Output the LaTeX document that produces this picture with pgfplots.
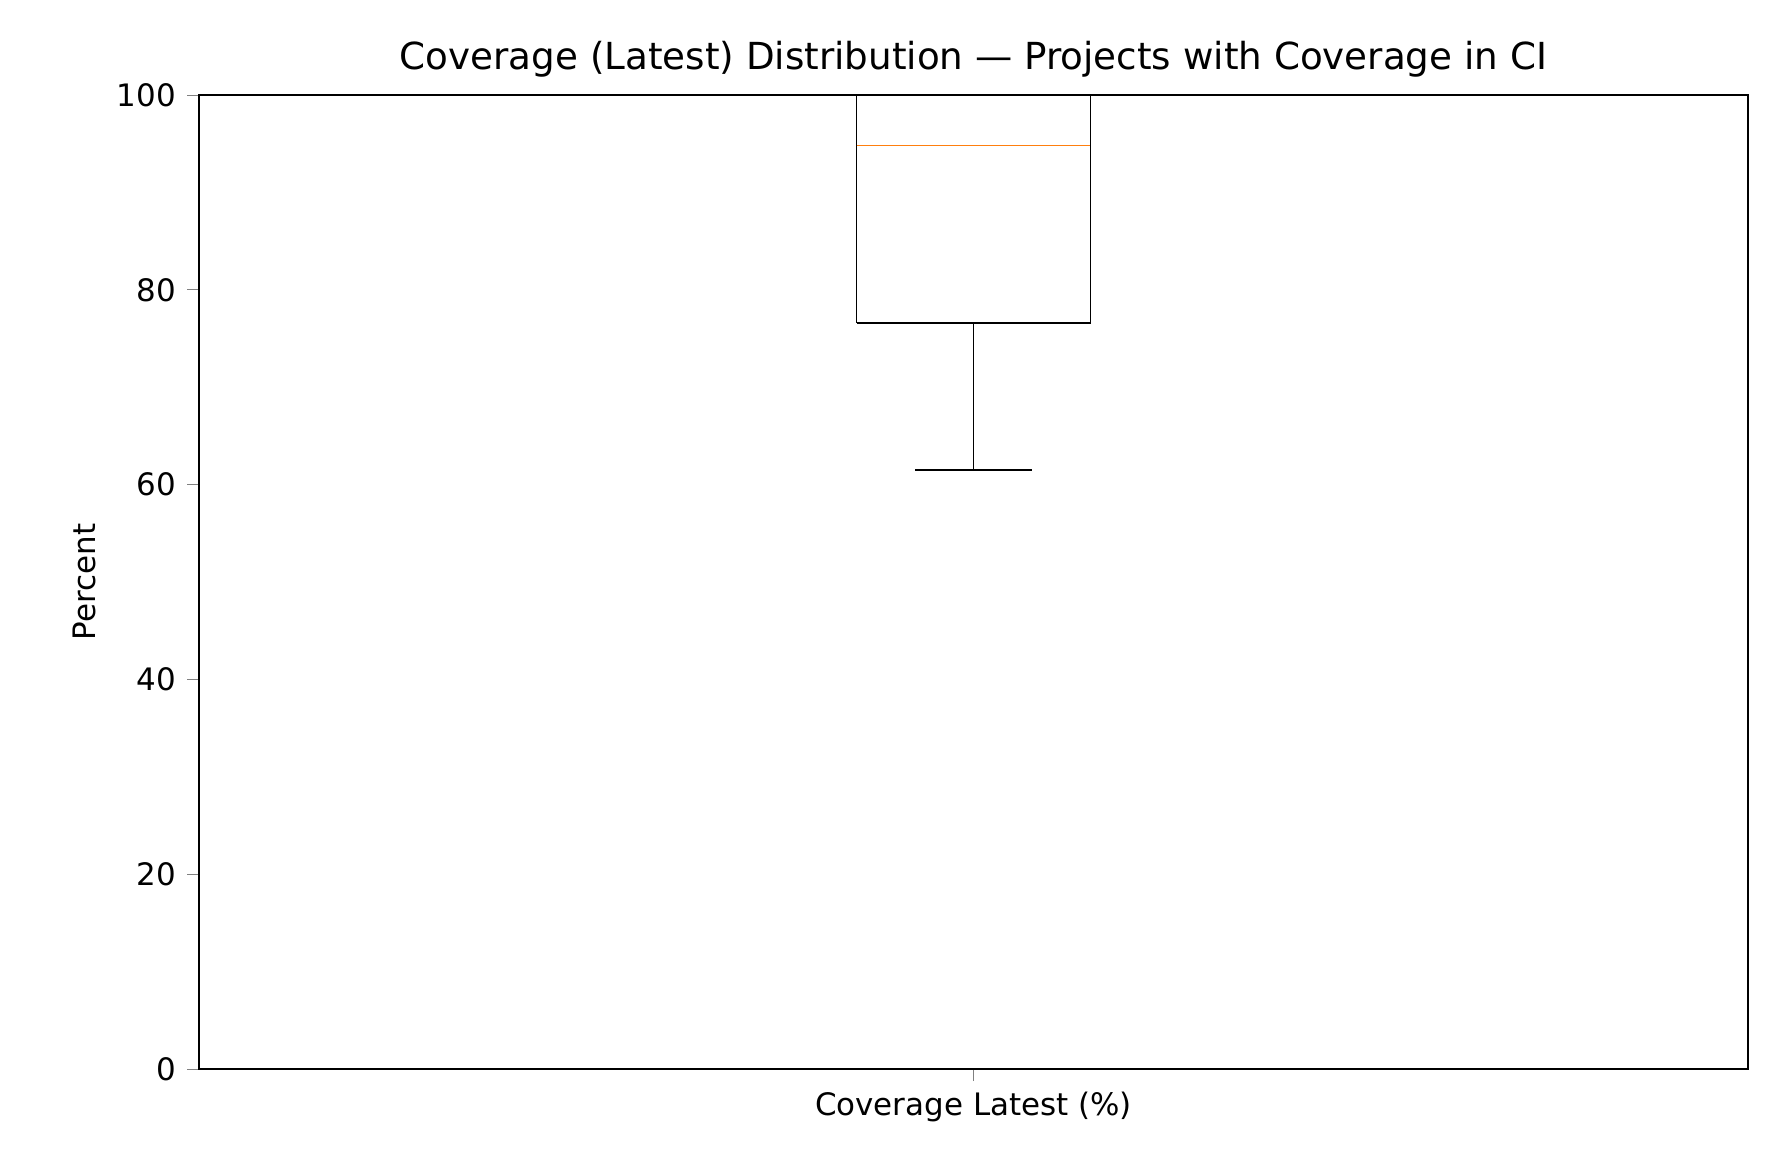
\documentclass[border=0pt]{standalone}
\usepackage{fontspec}
\setmainfont{DejaVu Sans}
\usepackage{pgfplots}
\pgfplotsset{compat=1.18}
\definecolor{mplorange}{RGB}{255,127,14}
\begin{document}
\fontsize{8.8}{10}\selectfont
\begin{tikzpicture}
\useasboundingbox (0,0) rectangle (17.7,11.66);
\begin{axis}[at={(1.99cm,0.97cm)},anchor=south west,scale only axis,
  width=15.49cm,height=9.74cm,
  xmin=0.5,xmax=1.5,ymin=0,ymax=100,
  xtick={1},xticklabels={Coverage Latest (\%)},
  ytick={0,20,40,60,80,100},
  tick align=outside,tick pos=left,
  major tick length=0.12cm,
  /pgf/number format/assume math mode=true,
  ticklabel style={font=\fontsize{8.8}{10}\selectfont},
  ylabel={Percent},
  title={Coverage (Latest) Distribution — Projects with Coverage in CI},
  title style={font=\fontsize{10.6}{12}\selectfont,yshift=-4pt},
  clip=false]
% box (Q1=76.6, Q3=100)
\addplot[black,thin] coordinates {(0.9245,76.6) (1.0755,76.6) (1.0755,100) (0.9245,100) (0.9245,76.6)};
% median
\addplot[mplorange,thin] coordinates {(0.9245,94.8) (1.0755,94.8)};
% lower whisker
\addplot[black,thin] coordinates {(1,76.6) (1,61.5)};
\addplot[black,thin] coordinates {(0.9623,61.5) (1.0377,61.5)};
\end{axis}
\end{tikzpicture}
\end{document}
